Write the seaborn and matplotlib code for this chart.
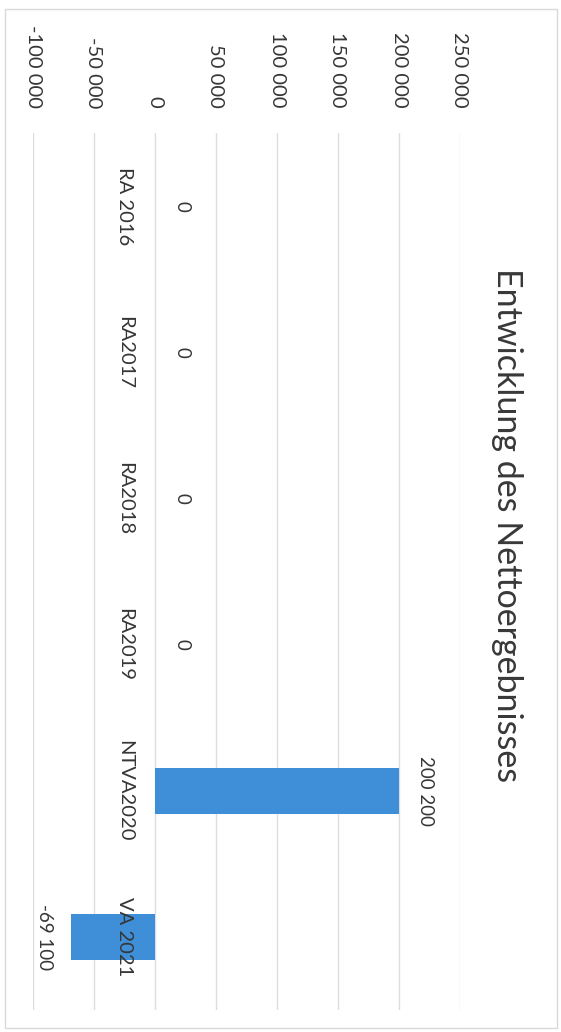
import matplotlib
matplotlib.use("Agg")
import matplotlib.pyplot as plt
from matplotlib.patches import Rectangle
from matplotlib.ticker import FuncFormatter, MultipleLocator
import seaborn as sns
import pandas as pd

# ---- data ----
categories = ["RA 2016", "RA2017", "RA2018", "RA2019", "NTVA2020", "VA 2021"]
values = [0, 0, 0, 0, 200200, -69100]
title = "Entwicklung des Nettoergebnisses"
value_ticks = [-100000, -50000, 0, 50000, 100000, 150000, 200000, 250000]

def fmt(v):
    return f"{int(v):,}".replace(",", " ")

sns.set_style("white")
plt.rcParams['font.family'] = ['Lato', 'DejaVu Sans']

W, H = 561, 1032
fig = plt.figure(figsize=(W / 100, H / 100), dpi=100)
fig.patch.set_facecolor("white")

# plot area (page is rotated 90 deg clockwise)
left, right, top, bottom = 33, 460, 133, 1010
ax = fig.add_axes([left / W, 1 - bottom / H, (right - left) / W, (bottom - top) / H])

df = pd.DataFrame({"cat": categories, "val": values})
sns.barplot(data=df, x="val", y="cat", orient="h", color="#3e8ed8",
            saturation=1, width=0.314, linewidth=0, edgecolor="none", ax=ax)

ax.set_xlim(value_ticks[0], value_ticks[-1])
ax.set_ylim(len(categories) - 0.5, -0.5)
ax.xaxis.set_major_locator(MultipleLocator(50000))
ax.xaxis.set_major_formatter(FuncFormatter(lambda v, p: fmt(v)))
ax.xaxis.tick_top()
ax.tick_params(axis="x", length=0, pad=18, labelsize=14.5,
               labelrotation=270, labelcolor="#363636")
ax.set_yticks([])
ax.set_xlabel("")
ax.set_ylabel("")
ax.grid(axis="x", color="#dcdce4", lw=1)
ax.grid(axis="y", visible=False)
ax.set_axisbelow(True)
for s in ax.spines.values():
    s.set_visible(False)

# category labels next to the zero line
for i, c in enumerate(categories):
    ax.annotate(c, xy=(0, i), xytext=(-15.5, 0), textcoords="offset points",
                rotation=270, ha="right", va="center", fontsize=14.5,
                color="#363636")

# data labels
ax.bar_label(ax.containers[0], labels=[fmt(v) for v in values], padding=13,
             rotation=270, fontsize=13.5, color="#363636")

# title
fig.text(507 / W, 1 - 525 / H, title, rotation=270, ha="center", va="center",
         fontsize=24.5, color="#383838")

# chart frame
fig.add_artist(Rectangle((5 / W, 1 - 1028 / H), (557 - 5) / W, (1028 - 9) / H,
                         transform=fig.transFigure, fill=False,
                         ec="#d9d9d9", lw=1))

fig.savefig("out.png", dpi=100, facecolor="white")
